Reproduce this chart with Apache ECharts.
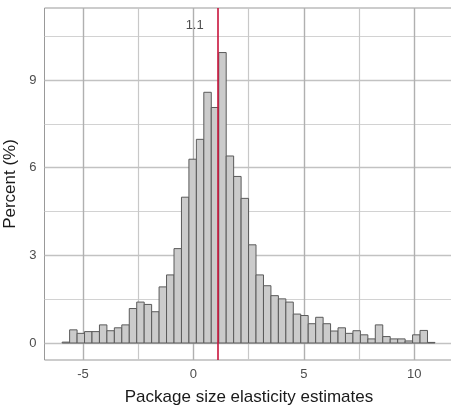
<!DOCTYPE html>
<html>
<head>
<meta charset="utf-8">
<script src="https://cdn.jsdelivr.net/npm/echarts@6/dist/echarts.min.js"></script>
<style>html,body{margin:0;padding:0;background:#fff}#c{width:451px;height:408px}</style>
</head>
<body>
<div id="c"></div>
<script>
// Histogram bins
const binStart = -5.94;
const binWidth = 0.3376;
const percent = [0.03,0.45,0.33,0.39,0.39,0.62,0.42,0.52,0.62,1.18,
                 1.40,1.32,1.07,1.92,2.33,3.23,4.99,6.29,6.97,8.58,
                 8.06,9.94,6.40,5.70,4.95,3.36,2.33,1.96,1.62,1.51,
                 1.40,0.99,0.94,0.66,0.88,0.66,0.41,0.52,0.33,0.42,
                 0.28,0.14,0.62,0.22,0.14,0.14,0.07,0.28,0.43,0.02];
const meanValue = 1.1;
const meanLabel = '1.1';
const meanLabelPos = [0.06, 10.88];
const xMajor = [-5, 0, 5, 10];
const xMinor = [-2.5, 2.5, 7.5];
const yMajor = [0, 3, 6, 9];
const yMinor = [1.5, 4.5, 7.5, 10.5];
const xTitle = 'Package size elasticity estimates';
const yTitle = 'Percent (%)';

const binData = percent.map((v, i) => [binStart + i * binWidth, binStart + (i + 1) * binWidth, v]);

const FONT = 'Liberation Sans, Arial, sans-serif';
const chart = echarts.init(document.getElementById('c'), null, {renderer: 'canvas'});
chart.setOption({
  animation: false,
  backgroundColor: '#ffffff',
  grid: {left: 44.5, top: 8, width: 409, bottom: 48, containLabel: false, outerBoundsMode: 'none',
         show: true, borderColor: '#999999', borderWidth: 1, backgroundColor: 'transparent'},
  xAxis: {
    type: 'value', min: -6.74, max: 11.78,
    axisLine: {show: false},
    splitLine: {show: false},
    axisTick: {show: true, customValues: xMajor, length: 4, lineStyle: {color: '#888888'}},
    axisLabel: {customValues: xMajor, margin: 8, color: '#4d4d4d', fontSize: 13, fontFamily: FONT},
    name: xTitle, nameLocation: 'middle', nameGap: 29,
    nameTextStyle: {color: '#1a1a1a', fontSize: 17, fontFamily: FONT}
  },
  yAxis: {
    type: 'value', min: -0.582, max: 11.465,
    axisLine: {show: false},
    splitLine: {show: false},
    axisTick: {show: true, customValues: yMajor, length: 4, lineStyle: {color: '#888888'}},
    axisLabel: {customValues: yMajor, margin: 8, color: '#4d4d4d', fontSize: 13, fontFamily: FONT},
    name: yTitle, nameLocation: 'middle', nameGap: 17, nameRotate: 90,
    nameTextStyle: {color: '#1a1a1a', fontSize: 17, fontFamily: FONT}
  },
  series: [
    {
      type: 'line', data: [], silent: true,
      markLine: {
        silent: true, symbol: 'none', z: 1, animation: false,
        label: {show: false},
        data: [
          ...yMinor.map(v => ({yAxis: v, lineStyle: {color: '#d2d2d2', width: 1.2, type: 'solid'}})),
          ...xMinor.map(v => ({xAxis: v, lineStyle: {color: '#c8c8c8', width: 1.2, type: 'solid'}})),
          ...yMajor.map(v => ({yAxis: v, lineStyle: {color: '#c2c2c2', width: 1.4, type: 'solid'}})),
          ...xMajor.map(v => ({xAxis: v, lineStyle: {color: '#b0b0b0', width: 1.4, type: 'solid'}}))
        ]
      }
    },
    {
      type: 'custom', z: 2,
      data: binData,
      encode: {x: [0, 1], y: 2},
      renderItem: function (params, api) {
        const p0 = api.coord([api.value(0), api.value(2)]);
        const p1 = api.coord([api.value(1), 0]);
        return {
          type: 'rect',
          shape: {x: p0[0], y: p0[1], width: p1[0] - p0[0], height: p1[1] - p0[1]},
          style: {fill: '#cbcbcb', stroke: '#5a5a5a', lineWidth: 1}
        };
      },
      markLine: {
        silent: true, symbol: 'none', z: 5, animation: false,
        label: {show: false},
        data: [{xAxis: meanValue, lineStyle: {color: '#c8143c', width: 1.6, type: 'solid'}}]
      }
    },
    {
      type: 'scatter', z: 6, silent: true,
      symbolSize: 0,
      data: [meanLabelPos],
      label: {show: true, position: 'inside', formatter: meanLabel, color: '#222222', fontSize: 13, fontFamily: FONT}
    }
  ]
});
</script>
</body>
</html>
